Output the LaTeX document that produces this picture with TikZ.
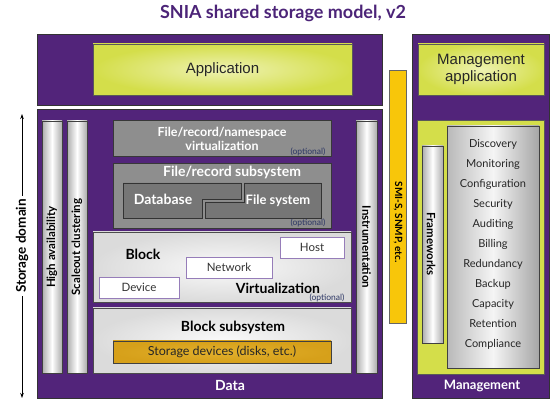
\documentclass[tikz,border=0pt]{standalone}
\usepackage{fontspec}
\setmainfont{Lato}
\newfontfamily\arialfont{Liberation Sans}
\usetikzlibrary{arrows.meta}
\definecolor{snpurple}{RGB}{82,36,122}
\definecolor{titlepurple}{RGB}{76,36,120}
\definecolor{limein}{RGB}{238,242,178}
\definecolor{limeout}{RGB}{212,222,74}
\definecolor{limeflat}{RGB}{212,222,74}
\definecolor{darkfill}{RGB}{142,142,142}
\definecolor{dbfill}{RGB}{118,118,118}
\definecolor{orangebar}{RGB}{248,198,10}
\definecolor{golden}{RGB}{214,160,26}
\definecolor{goldenin}{RGB}{226,176,44}
\definecolor{optblue}{RGB}{44,54,100}
\definecolor{boxpurple}{RGB}{150,125,185}
\tikzset{
  purplebox/.style={draw=black!80, line width=0.6pt, fill=snpurple, inner sep=0pt, outer sep=0pt},
  limebox/.style={draw=black!65, line width=0.6pt, inner color=limein, outer color=limeout, inner sep=0pt, outer sep=0pt},
  darkbox/.style={draw=black!78, line width=0.8pt, fill=darkfill, inner sep=0pt, outer sep=0pt},
  lightbox/.style={draw=black!70, line width=0.8pt, inner color=gray!4, outer color=gray!28, inner sep=0pt, outer sep=0pt},
  barbox/.style={draw=black!75, line width=0.6pt, left color=gray!65, right color=gray!65, middle color=white, inner sep=0pt, outer sep=0pt},
  listbox/.style={draw=black!75, line width=0.8pt, left color=gray!55, right color=gray!70, middle color=gray!8, inner sep=0pt, outer sep=0pt},
  whitebox/.style={draw=boxpurple, line width=0.8pt, fill=white, inner sep=0pt, outer sep=0pt},
  bartext/.style={font=\bfseries\fontsize{11.5}{13}\selectfont, text=black},
  whitebold/.style={font=\bfseries\fontsize{13.5}{15}\selectfont, text=white},
  blackbold/.style={font=\bfseries\fontsize{14}{16}\selectfont, text=black},
  optional/.style={font=\fontsize{8.5}{9}\selectfont, text=optblue},
  listitem/.style={font=\fontsize{11}{12}\selectfont, text=black!85},
  smalltext/.style={font=\fontsize{11.5}{13}\selectfont, text=black!80},
  arialtext/.style={font=\arialfont\fontsize{15}{17}\selectfont, text=black!85},
}
\begin{document}
\begin{tikzpicture}[x=1pt,y=-1pt]
\useasboundingbox (0,0) rectangle (558,406);
\fill[white] (0,0) rectangle (558,406);

% title
\node[font=\bfseries\fontsize{18}{20}\selectfont, text=titlepurple] (title) at (283,13) {SNIA shared storage model, v2};

% top application area
\node[purplebox, minimum width=345pt, minimum height=71pt] (topbox) at (209.5,69.5) {};
\node[limebox, minimum width=259pt, minimum height=51pt, arialtext] (app) at (222.5,69.5) {Application};

% main storage domain box
\node[purplebox, minimum width=345pt, minimum height=289pt] (mainbox) at (209.5,253.5) {};

% bars
\node[barbox, minimum width=20pt, minimum height=252pt] (ha) at (52,247) {};
\node[bartext, rotate=90] (hatext) at (ha) {High availability};
\node[barbox, minimum width=20pt, minimum height=252pt] (sc) at (77,247) {};
\node[bartext, rotate=90] (sctext) at (sc) {Scaleout clustering};
\node[barbox, minimum width=21pt, minimum height=252pt] (instr) at (366.5,247) {};
\node[bartext, rotate=-90] (instrtext) at (instr) {Instrumentation};

% file/record layers
\node[darkbox, minimum width=218pt, minimum height=36pt] (nsvirt) at (222,138) {};
\node[whitebold, align=center, font=\bfseries\fontsize{12.5}{14}\selectfont] (nstext) at (222,139) {File/record/namespace\\virtualization};
\node[optional] (opt1) at (308,152) {(optional)};

\node[darkbox, minimum width=218pt, minimum height=65pt] (frsub) at (222,195.5) {};
\node[whitebold, font=\bfseries\fontsize{14}{15}\selectfont] (frtext) at (232,172) {File/record subsystem};
\draw[draw=black!80, line width=0.8pt, fill=dbfill] (123,183) -- (241,183) -- (241,199) -- (202,199) -- (202,218) -- (123,218) -- cycle;
\draw[draw=black!80, line width=0.8pt, fill=dbfill] (244,183) -- (321,183) -- (321,218) -- (205,218) -- (205,202) -- (244,202) -- cycle;
\node[whitebold, font=\bfseries\fontsize{14}{15}\selectfont] (dbtext) at (163,199) {Database};
\node[whitebold, font=\bfseries\fontsize{13}{15}\selectfont] (fstext) at (278,201) {File system};
\node[optional] (opt2) at (308,223) {(optional)};

% block virtualization
\node[lightbox, minimum width=258pt, minimum height=70pt] (blockvirt) at (222,267) {};
\node[blackbold] (blocktext) at (143,254) {Block};
\node[blackbold] (virttext) at (278,288) {Virtualization};
\node[optional] (opt3) at (327,297.5) {(optional)};
\node[whitebox, minimum width=64pt, minimum height=21pt, smalltext] (host) at (312,247.5) {Host};
\node[whitebox, minimum width=86pt, minimum height=21pt, smalltext] (network) at (229,267.5) {Network};
\node[whitebox, minimum width=80pt, minimum height=21pt, smalltext] (device) at (139,287.5) {Device};

% block subsystem
\node[lightbox, minimum width=258pt, minimum height=65pt] (blocksub) at (222,340.5) {};
\node[blackbold] (bstext) at (233,327) {Block subsystem};
\node[draw=black!75, line width=0.8pt, inner color=goldenin, outer color=golden, minimum width=218pt, minimum height=22pt, inner sep=0pt, font=\fontsize{12.5}{14}\selectfont, text=black!85] (storage) at (222,352) {Storage devices (disks, etc.)};

\node[whitebold, font=\bfseries\fontsize{14}{15}\selectfont] (datatext) at (230,385) {Data};

% storage domain arrow
\coordinate (sdtop) at (22,114);
\coordinate (sdbot) at (22,398);
\draw[line width=0.8pt, {Stealth[length=5pt,width=3.5pt]}-{Stealth[length=5pt,width=3.5pt]}] (sdtop) -- (sdbot);
\node[fill=white, rotate=90, inner sep=3pt, font=\bfseries\fontsize{13.5}{15}\selectfont] (sdtext) at (22,246) {Storage domain};

% SMI-S bar
\node[draw=black!60, line width=0.6pt, fill=orangebar, minimum width=17pt, minimum height=253pt, inner sep=0pt] (smi) at (397.5,196.5) {};
\node[rotate=-90, font=\bfseries\fontsize{10}{11}\selectfont, text=black] (smitext) at (398,222) {SMI-S, SNMP, etc.};

% right management column
\node[purplebox, minimum width=137pt, minimum height=364pt] (rightbox) at (480.5,216) {};
\node[limebox, minimum width=126pt, minimum height=51pt, arialtext, align=center] (mgmtapp) at (481,69.5) {Management\\application};
\node[draw=black!65, line width=0.6pt, fill=limeflat, minimum width=127pt, minimum height=254pt, inner sep=0pt] (mgmtlime) at (480.5,247) {};
\node[listbox, minimum width=92pt, minimum height=242pt] (list) at (493,247) {};
\node[barbox, minimum width=21pt, minimum height=197pt] (fw) at (432.5,244.5) {};
\node[bartext, rotate=-90] (fwtext) at (431,244) {Frameworks};

\node[listitem] (l1) at (493,144) {Discovery};
\node[listitem] (l2) at (493,164) {Monitoring};
\node[listitem] (l3) at (493,184) {Configuration};
\node[listitem] (l4) at (493,204) {Security};
\node[listitem] (l5) at (493,224) {Auditing};
\node[listitem] (l6) at (493,244) {Billing};
\node[listitem] (l7) at (493,264) {Redundancy};
\node[listitem] (l8) at (493,284) {Backup};
\node[listitem] (l9) at (493,304) {Capacity};
\node[listitem] (l10) at (493,324) {Retention};
\node[listitem] (l11) at (493,344) {Compliance};

\node[whitebold, font=\bfseries\fontsize{13}{15}\selectfont] (mgmttext) at (482,386) {Management};
\end{tikzpicture}
\end{document}
